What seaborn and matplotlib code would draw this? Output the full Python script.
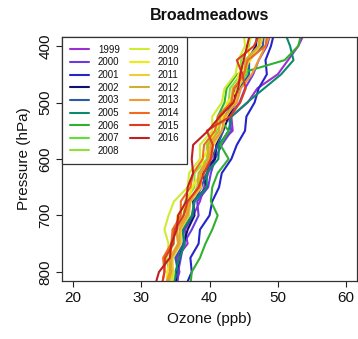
import numpy as np
import pandas as pd
import matplotlib
matplotlib.use("Agg")
import matplotlib.pyplot as plt
import seaborn as sns

pressure = [375, 400, 425, 450, 475, 500, 525, 550, 575, 600,
            625, 650, 675, 700, 725, 750, 775, 800, 825]

years = ["1999", "2000", "2001", "2002", "2003", "2005", "2006", "2007", "2008",
         "2009", "2010", "2011", "2012", "2013", "2014", "2015", "2016"]

colors = ["#9b30d0", "#6a3be0", "#2424c8", "#10106e", "#2a5aa0", "#0c8a6e",
          "#30b030", "#5ee03a", "#8fe03a", "#d0ec30", "#f0ec10", "#f0cc30",
          "#d2ae30", "#f09a30", "#f06a20", "#e03a20", "#c02020"]

oz_1999 = [54, 53, 51.5, 50, 47, 45.6, 43.2, 43.4, 41.2, 40.6, 39.8, 39.2, 38.6, 37.6, 36.4, 36.8, 35.2, 35.6, 35]
oz_2000 = [49, 48.4, 47.2, 46.4, 45.2, 44.4, 42.8, 43.2, 41.8, 40.8, 40.2, 39.8, 38.2, 38.4, 37.4, 36.2, 35.8, 35.4, 35.3]
oz_2001 = [49.5, 49, 48.2, 48.4, 47.2, 46.6, 45.4, 45.2, 44.0, 43.2, 41.8, 41.4, 40.4, 40.0, 38.6, 38.4, 37.2, 37.4, 36.5]
oz_2002 = [47, 46.8, 45.6, 45.4, 43.6, 43.8, 42.8, 42.0, 41.0, 40.8, 39.0, 39.6, 37.6, 37.8, 36.8, 36.2, 35.6, 35.2, 35]
oz_2003 = [48, 47.8, 45.8, 45.8, 44.4, 43.6, 42.2, 42.0, 41.2, 40.2, 39.6, 38.8, 37.8, 37.6, 36.2, 36.2, 35.0, 35.4, 34.5]
oz_2005 = [51, 51.8, 52.3, 50.5, 48, 45.5, 43.2, 42.8, 41.4, 41.3, 39.6, 39.6, 37.8, 37.4, 36.0, 36.4, 35.6, 35.0, 34.8]
oz_2006 = [53.5, 53, 51, 44, 42.5, 42.2, 41.2, 42.8, 41.6, 42.8, 41.2, 40.4, 40.2, 41.2, 40.4, 39.4, 38.6, 37.4, 37.2]
oz_2007 = [47.5, 47.2, 45.6, 45.4, 44.0, 43.8, 42.2, 41.0, 40.2, 40.2, 38.6, 38.4, 37.2, 36.2, 35.2, 35.4, 34.4, 34.6, 34]
oz_2008 = [46, 45.8, 44.6, 44.6, 43.0, 42.8, 41.4, 40.8, 39.6, 39.6, 37.8, 37.8, 36.4, 36.2, 34.6, 34.8, 33.6, 34.2, 33.5]
oz_2009 = [45, 45.2, 44.2, 43.8, 42.2, 41.8, 40.4, 40.4, 38.6, 38.6, 37.0, 36.8, 34.8, 34.0, 33.4, 34.0, 33.8, 34.8, 34.5]
oz_2010 = [46.5, 45.5, 46.0, 44.2, 44.2, 42.6, 42.0, 40.8, 40.2, 39.0, 38.8, 37.4, 36.9, 35.3, 35.2, 34.4, 34.4, 33.8, 33.8]
oz_2011 = [48, 47.4, 45.8, 45.0, 44.2, 43.8, 42.4, 41.8, 40.6, 40.2, 38.6, 38.8, 37.2, 37.0, 35.8, 35.8, 34.6, 34.6, 34]
oz_2012 = [47.5, 47.2, 45.2, 45.2, 43.4, 43.2, 41.6, 41.4, 39.8, 39.8, 38.4, 38.2, 37.2, 36.8, 35.6, 35.6, 34.4, 34.4, 33.8]
oz_2013 = [49, 48.2, 47.2, 46.2, 44.6, 44.0, 42.2, 41.8, 40.2, 40.0, 38.8, 38.6, 37.0, 36.6, 35.2, 35.4, 34.2, 34.2, 33.5]
oz_2014 = [48.5, 48.2, 45.6, 45.0, 43.6, 43.2, 41.2, 40.8, 39.2, 39.0, 37.6, 37.2, 35.8, 35.8, 34.6, 34.4, 33.2, 33.4, 33]
oz_2015 = [47.5, 46.5, 44, 44.8, 45.3, 44.5, 43, 39.6, 40.5, 40.2, 39.2, 38.4, 36.8, 36.2, 34.9, 34.7, 33.5, 33.4, 33]
oz_2016 = [46, 45.5, 45, 44.5, 44.2, 43.5, 41.5, 39.8, 37.6, 37.4, 37.6, 36.8, 36.6, 35.4, 35.2, 34.4, 34.2, 32.6, 32]

series = [oz_1999, oz_2000, oz_2001, oz_2002, oz_2003, oz_2005, oz_2006, oz_2007, oz_2008,
          oz_2009, oz_2010, oz_2011, oz_2012, oz_2013, oz_2014, oz_2015, oz_2016]

x_ticks = [20, 30, 40, 50, 60]
y_ticks = [400, 500, 600, 700, 800]

rows = []
for yr, vals in zip(years, series):
    for p, v in zip(pressure, vals):
        rows.append({"year": yr, "pressure": p, "ozone": v})
df = pd.DataFrame(rows)

sns.set_theme(style="ticks")
plt.rcParams["font.family"] = ["Liberation Sans", "DejaVu Sans"]

fig = plt.figure(figsize=(3.58, 3.39), dpi=100)
ax = fig.add_axes([62/358, 1-281/339, 295/358, 244/339])

sns.lineplot(data=df, x="ozone", y="pressure", hue="year", hue_order=years,
             palette=dict(zip(years, colors)), sort=False, estimator=None,
             linewidth=1.5, ax=ax, legend=True)

ax.set_xlim(18.4, 61.6)
ax.set_ylim(816, 384)
ax.set_xticks(x_ticks)
ax.set_yticks(y_ticks)
ax.set_yticklabels([str(t) for t in y_ticks], rotation=90, va="center")
ax.tick_params(axis="both", labelsize=11, length=4, width=0.8, color="#222222",
               labelcolor="#111111", direction="out")
ax.tick_params(axis="y", pad=3)
ax.tick_params(axis="x", pad=3)
for s in ax.spines.values():
    s.set_visible(True)
    s.set_linewidth(0.9)
    s.set_color("#333333")

ax.set_xlabel("Ozone (ppb)", fontsize=11, labelpad=5, color="#111111")
ax.set_ylabel("Pressure (hPa)", fontsize=11, labelpad=5, color="#111111")
ax.set_title("Broadmeadows", fontsize=11.5, fontweight="bold", pad=12, color="#111111")

handles, labels = ax.get_legend_handles_labels()
leg = ax.legend(handles, labels, ncol=2, loc="upper left", bbox_to_anchor=(0, 1),
                borderaxespad=0, fontsize=7, frameon=True, fancybox=False,
                edgecolor="#333333", framealpha=1, handlelength=2.0,
                handletextpad=0.9, columnspacing=1.0, labelspacing=0.27,
                borderpad=0.8)
leg.get_frame().set_linewidth(0.9)
for t in leg.get_texts():
    t.set_color("#111111")

fig.savefig("out.png", dpi=100)
